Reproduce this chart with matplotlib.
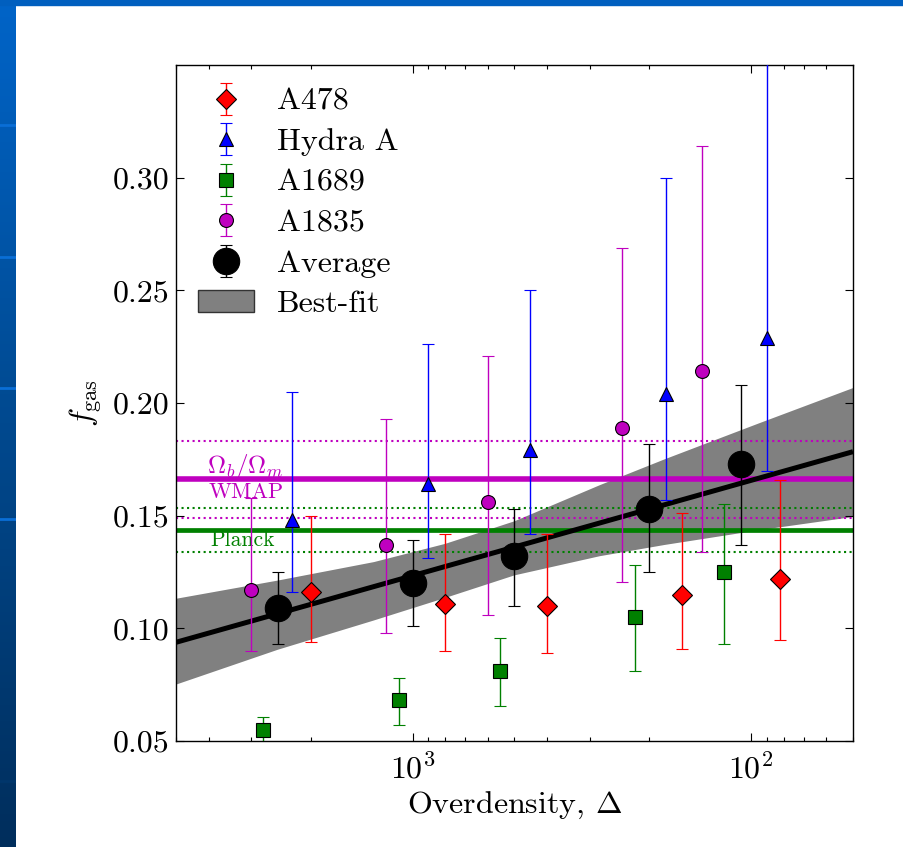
import matplotlib
matplotlib.use('Agg')
import matplotlib.pyplot as plt
import matplotlib.patches as mpatches
from matplotlib.colors import LinearSegmentedColormap
from matplotlib.ticker import FormatStrFormatter
import numpy as np

plt.rcParams['font.family'] = 'serif'
plt.rcParams['font.serif'] = ['cmr10']
plt.rcParams['mathtext.fontset'] = 'cm'
plt.rcParams['axes.formatter.use_mathtext'] = True
plt.rcParams['axes.unicode_minus'] = False

# ---- data: overdensity, f_gas, lower / upper error bar ends
a478_delta = np.array([2000, 800, 400, 160, 82])
a478_f = np.array([0.116, 0.111, 0.110, 0.115, 0.122])
a478_lo = np.array([0.094, 0.090, 0.089, 0.091, 0.095])
a478_hi = np.array([0.150, 0.142, 0.142, 0.151, 0.166])

hydra_delta = np.array([2270, 900, 450, 178, 90])
hydra_f = np.array([0.148, 0.164, 0.179, 0.204, 0.229])
hydra_lo = np.array([0.116, 0.131, 0.142, 0.157, 0.170])
hydra_hi = np.array([0.205, 0.226, 0.250, 0.300, 0.400])

a1689_delta = np.array([2760, 1100, 550, 220, 120])
a1689_f = np.array([0.055, 0.068, 0.081, 0.105, 0.125])
a1689_lo = np.array([0.045, 0.057, 0.0655, 0.081, 0.093])
a1689_hi = np.array([0.0606, 0.078, 0.0955, 0.128, 0.155])

a1835_delta = np.array([3000, 1200, 600, 240, 140])
a1835_f = np.array([0.117, 0.137, 0.156, 0.189, 0.214])
a1835_lo = np.array([0.090, 0.098, 0.106, 0.1205, 0.134])
a1835_hi = np.array([0.158, 0.193, 0.221, 0.269, 0.314])

avg_delta = np.array([2500, 1000, 500, 200, 107])
avg_f = np.array([0.109, 0.120, 0.132, 0.153, 0.173])
avg_lo = np.array([0.093, 0.101, 0.110, 0.125, 0.137])
avg_hi = np.array([0.125, 0.139, 0.153, 0.182, 0.208])

# best-fit line ends and confidence band
fit_delta = np.array([5000, 50])
fit_f = np.array([0.0938, 0.1784])
band_delta = np.array([5000, 2500, 1300, 800, 500, 280, 180, 95, 50])
band_lo = np.array([0.0750, 0.0905, 0.1035, 0.1135, 0.1235, 0.1320, 0.1370, 0.1435, 0.1494])
band_hi = np.array([0.1131, 0.1212, 0.1294, 0.1375, 0.1475, 0.1635, 0.1750, 0.1909, 0.2066])

# cosmic baryon fractions (value, lower, upper)
wmap = (0.1661, 0.1488, 0.1833)
planck = (0.1436, 0.1340, 0.1532)

W, H = 904, 847
fig = plt.figure(figsize=(W / 100, H / 100), dpi=100)
fig.patch.set_facecolor('white')

# slide frame: blue strip on the left and on top
bg = fig.add_axes([0, 0, 16 / W, 1])
cmap = LinearSegmentedColormap.from_list('slide', ['#0064c8', '#00498f', '#002e5c'])
bg.imshow(np.linspace(0, 1, 256).reshape(-1, 1), cmap=cmap, aspect='auto',
          extent=[0, 1, H, 0])
for yy in [125, 257, 388, 519]:
    bg.axhline(yy, color='#0a6ed6', lw=2)
bg.axhline(781, color='#00366b', lw=2)
bg.set_xlim(0, 1)
bg.set_ylim(H, 0)
bg.axis('off')
fig.patches.append(mpatches.Rectangle((0, 1 - 5 / H), 1, 5 / H, transform=fig.transFigure,
                                      color='#005fbf', zorder=0))

ax = fig.add_axes([176 / W, 106 / H, 677 / W, 676 / H])

ax.fill_between(band_delta, band_lo, band_hi, facecolor='0.5', edgecolor='none', zorder=1)
ax.plot(fit_delta, fit_f, color='k', lw=3.6, zorder=3, solid_capstyle='butt')

ax.axhline(wmap[0], color='m', lw=4, zorder=2)
ax.axhline(wmap[1], color='m', lw=1.5, ls=':', zorder=2)
ax.axhline(wmap[2], color='m', lw=1.5, ls=':', zorder=2)
ax.axhline(planck[0], color='g', lw=3.4, zorder=2)
ax.axhline(planck[1], color='g', lw=1.5, ls=':', zorder=2)
ax.axhline(planck[2], color='g', lw=1.5, ls=':', zorder=2)

ytr = ax.get_yaxis_transform()
ax.text(0.046, 0.1690, r'$\Omega_b/\Omega_m$', color='m', fontsize=18, transform=ytr, va='baseline')
ax.text(0.048, 0.1577, 'WMAP', color='m', fontsize=16, transform=ytr, va='baseline')
ax.text(0.050, 0.1364, 'Planck', color='g', fontsize=15.5, transform=ytr, va='baseline')

kw = dict(capsize=4, elinewidth=1, capthick=1, mec='k', mew=0.8, zorder=4, ls='none')
ax.errorbar(a478_delta, a478_f, yerr=[a478_f - a478_lo, a478_hi - a478_f], marker='D',
            color='r', ms=10, label='A478', **kw)
ax.errorbar(hydra_delta, hydra_f, yerr=[hydra_f - hydra_lo, hydra_hi - hydra_f], marker='^',
            color='b', ms=10, label='Hydra A', **kw)
ax.errorbar(a1689_delta, a1689_f, yerr=[a1689_f - a1689_lo, a1689_hi - a1689_f], marker='s',
            color='g', ms=10, label='A1689', **kw)
ax.errorbar(a1835_delta, a1835_f, yerr=[a1835_f - a1835_lo, a1835_hi - a1835_f], marker='o',
            color='m', ms=10, label='A1835', **kw)
ax.errorbar(avg_delta, avg_f, yerr=[avg_f - avg_lo, avg_hi - avg_f], marker='o',
            color='k', ms=19, label='Average', **kw)

handles, labels = ax.get_legend_handles_labels()
handles.append(mpatches.Patch(facecolor='0.5', edgecolor='0.2', lw=1))
labels.append('Best-fit')
ax.legend(handles, labels, loc='upper left', frameon=False, fontsize=23, numpoints=1,
          handlelength=1.75, handletextpad=0.7, labelspacing=0.38,
          borderpad=0.3, borderaxespad=0.4)

ax.set_xscale('log')
ax.set_xlim(5000, 50)
ax.set_ylim(0.05, 0.35)
ax.set_yticks([0.05, 0.10, 0.15, 0.20, 0.25, 0.30])
ax.yaxis.set_major_formatter(FormatStrFormatter('%.2f'))
ax.tick_params(which='both', direction='in', top=True, right=True, labelsize=23)
ax.tick_params(which='major', length=6, width=0.8)
ax.tick_params(which='minor', length=3, width=0.8)
ax.tick_params(axis='x', pad=8)
ax.tick_params(axis='y', pad=5)
for s in ax.spines.values():
    s.set_linewidth(1.0)

ax.set_xlabel(r'Overdensity, $\Delta$', fontsize=23, labelpad=4)
ax.set_ylabel(r'$f_{\rm gas}$', fontsize=23, labelpad=6)

fig.savefig('out.png', dpi=100)
